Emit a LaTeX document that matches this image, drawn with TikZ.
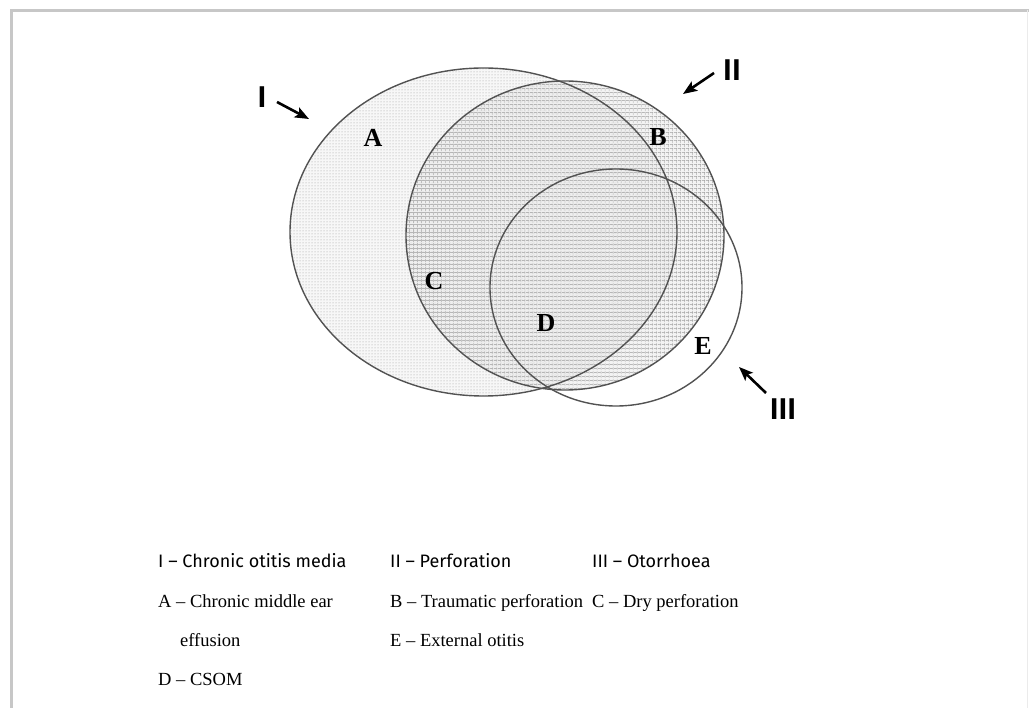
\documentclass[tikz,border=0pt]{standalone}
\usepackage{fontspec}
\setmainfont{Liberation Serif}
\setsansfont{Fira Sans}[BoldFont={* SemiBold}]
\usetikzlibrary{patterns,patterns.meta,arrows.meta}
\colorlet{rim}{black!68}
\colorlet{framegray}{black!22}
\tikzset{
  setline/.style = {draw=rim, line width=1.4pt},
  region/.style = {font=\bfseries\fontsize{26}{26}\selectfont},
  numeral/.style = {font=\sffamily\bfseries\fontsize{30}{30}\selectfont},
  pointer/.style = {-{Stealth[length=14pt,width=11pt,inset=3pt]}, line width=2.6pt},
  legend/.style = {anchor=base west, inner sep=0pt, font=\fontsize{18.5}{18.5}\selectfont},
  legendsf/.style = {legend, font=\sffamily\fontsize{18}{18}\selectfont}
}

\begin{document}
\begin{tikzpicture}[x=1pt,y=-1pt]
  \useasboundingbox (0,0) rectangle (1029,708);
  %
  \coordinate (cI) at (483.5,232);
  \coordinate (cII) at (565,235.5);
  \coordinate (cIII) at (616,287.5);
  %
  % frame
  \draw[framegray, line width=3pt] (11.5,708) -- (11.5,10.5) -- (1029,10.5);
  \draw[black!8, line width=1pt] (1027.5,10.5) -- (1027.5,708);
  % fills
  \fill[black!3] (cI) ellipse [x radius=193.5, y radius=164];
  \fill[pattern=dots, pattern color=black!40] (cI) ellipse [x radius=193.5, y radius=164];
  \fill[black!8, fill opacity=.6] (cII) ellipse [x radius=159, y radius=154.5];
  \fill[pattern={Lines[distance=4pt,line width=.6pt]}, pattern color=black!40] (cII) ellipse [x radius=159, y radius=154.5];
  \fill[pattern={Lines[angle=90,distance=4pt,line width=.6pt]}, pattern color=black!40] (cII) ellipse [x radius=159, y radius=154.5];
  % outlines
  \draw[setline] (cI) ellipse [x radius=193.5, y radius=164];
  \draw[setline] (cII) ellipse [x radius=159, y radius=154.5];
  \draw[setline] (cIII) ellipse [x radius=126, y radius=118.5];
  % regions
  \node[region] (A) at (373,138) {A};
  \node[region] (B) at (658,137) {B};
  \node[region] (C) at (434,281) {C};
  \node[region] (D) at (546,323) {D};
  \node[region] (E) at (703,346) {E};
  % sets
  \node[numeral] (setI) at (262,97) {I};
  \node[numeral] (setII) at (732,70) {II};
  \node[numeral] (setIII) at (783,409) {III};
  \coordinate (tailI) at (277,102);
  \coordinate (tipI) at (309,119);
  \coordinate (tailII) at (714,73);
  \coordinate (tipII) at (683,94);
  \coordinate (tailIII) at (766,393);
  \coordinate (tipIII) at (739,367);
  \draw[pointer] (tailI) -- (tipI);
  \draw[pointer] (tailII) -- (tipII);
  \draw[pointer] (tailIII) -- (tipIII);
  % legend
  \node[legendsf] (keyI) at (158,568) {I -- Chronic otitis media};
  \node[legendsf] (keyII) at (390,568) {II -- Perforation};
  \node[legendsf] (keyIII) at (592,568) {III -- Otorrhoea};
  \node[legend] (keyA) at (158,608) {A -- Chronic middle ear};
  \node[legend] (keyB) at (390,608) {B -- Traumatic perforation};
  \node[legend] (keyC) at (592,608) {C -- Dry perforation};
  \node[legend] (keyA2) at (180,646) {effusion};
  \node[legend] (keyE) at (390,646) {E -- External otitis};
  \node[legend] (keyD) at (158,685) {D -- CSOM};
\end{tikzpicture}
\end{document}
